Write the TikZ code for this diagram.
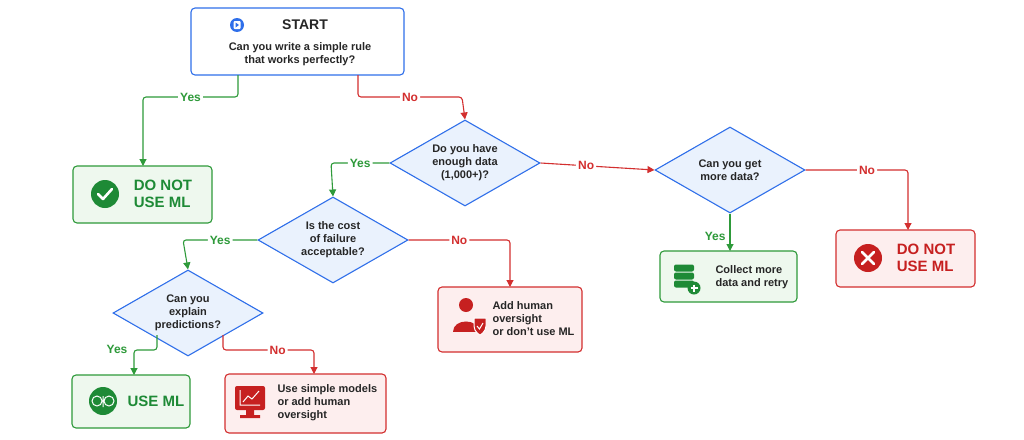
\documentclass[tikz,border=0pt]{standalone}
\usepackage{fontspec}
\setmainfont{Liberation Sans}
\usetikzlibrary{shapes.geometric,arrows.meta}
\definecolor{gB}{HTML}{2E9A3A}
\definecolor{gF}{HTML}{EEF8EE}
\definecolor{rB}{HTML}{D32F2F}
\definecolor{rF}{HTML}{FDEEEE}
\definecolor{bB}{HTML}{2F6FEA}
\definecolor{bF}{HTML}{EAF2FD}
\definecolor{gI}{HTML}{1E8A36}
\definecolor{rI}{HTML}{C62020}
\begin{document}
\begin{tikzpicture}[x=1pt,y=-1pt,
 txt/.style={font=\fontsize{11}{13}\selectfont\bfseries,text=black!85,align=center},
 box/.style={draw,rounded corners=4pt,line width=1.1pt},
 gbox/.style={box,draw=gB,fill=gF},
 rbox/.style={box,draw=rB,fill=rF},
 dia/.style={diamond,draw=bB,fill=bF,line width=1.1pt,inner sep=0pt,minimum width=150pt,minimum height=86pt,aspect=1.75,txt},
 ga/.style={draw=gB,line width=1.1pt,-{Triangle[length=7pt,width=7pt]},rounded corners=3pt},
 ra/.style={draw=rB,line width=1.1pt,-{Triangle[length=7pt,width=7pt]},rounded corners=3pt},
 gl/.style={fill=white,text=gB,font=\fontsize{12}{14}\selectfont\bfseries,inner sep=2pt},
 rl/.style={fill=white,text=rB,font=\fontsize{12}{14}\selectfont\bfseries,inner sep=2pt},
 big/.style={font=\fontsize{15}{17}\selectfont\bfseries,align=left}]
\useasboundingbox[fill=white] (0,0) rectangle (1024,439);
% nodes
\draw[box,draw=bB,fill=white] (191,8) rectangle (404,75);
\node[txt,font=\fontsize{14}{16}\selectfont\bfseries] (st) at (305,25) {START};
\node[txt] (q0) at (300,54) {Can you write a simple rule\\that works perfectly?};
\coordinate (s) at (191,8);
\fill[bB] (237,25) circle (7);
\fill[white,rounded corners=1pt] (233.5,21) rectangle (240.5,29);
\fill[bB] (235.5,22.5) -- (235.5,27.5) -- (239,25) -- cycle;

\node[dia] (d1) at (465,163) {Do you have\\enough data\\(1,000+)?};
\node[dia] (d2) at (730,170) {Can you get\\more data?};
\node[dia] (d3) at (333,240) {Is the cost\\of failure\\acceptable?};
\node[dia] (d4) at (188,313) {Can you\\explain\\predictions?};

\draw[gbox] (73,166) rectangle (212,223); \coordinate (b1) at (143,166);
\fill[gI] (105,194) circle (14);
\draw[white,line width=2.6pt,line cap=round,line join=round] (98,194)--(103,199)--(112,189);
\node[big,text=gI] (t1) at (163,194) {DO NOT\\USE ML};

\draw[rbox] (836,230) rectangle (975,287); \coordinate (b2) at (908,230);
\fill[rI] (868,258) circle (14);
\draw[white,line width=2.6pt,line cap=round] (862,252)--(874,264) (874,252)--(862,264);
\node[big,text=rI] (t2) at (926,258) {DO NOT\\USE ML};

\draw[gbox] (660,251) rectangle (797,302); \coordinate (b3) at (730,251);
\foreach \yy in {268,276,284}{\fill[gI,rounded corners=2pt] (674,\yy-3.5) rectangle (694,\yy+3.5);}
\fill[gI] (694,288) circle (6.5);
\draw[white,line width=1.4pt] (690.5,288)--(697.5,288) (694,284.5)--(694,291.5);
\node[txt,align=left,anchor=west] (t3) at (712,277) {Collect more\\data and retry};

\draw[rbox] (438,287) rectangle (582,352); \coordinate (b4) at (510,287);
\fill[rI] (466,305) circle (7);
\fill[rI] (453,332) .. controls (453,318) and (479,318) .. (479,332) -- cycle;
\fill[rI,draw=white,line width=1pt] (474,318) -- (486,318) -- (486,326) .. controls (486,332) and (480,335) .. (480,335) .. controls (480,335) and (474,332) .. (474,326) -- cycle;
\draw[white,line width=1pt] (477,326)--(479.5,329)--(483,323);
\node[txt,align=left,anchor=west] (t4) at (489,319) {Add human\\oversight\\or don't use ML};

\draw[gbox] (72,375) rectangle (190,428); \coordinate (b5) at (134,375);
\fill[gI] (103,401) circle (14);
\draw[white,line width=1pt] (97,401) circle (5) (109,401) circle (5) (103,396)--(103,407);
\node[big,text=gI,anchor=west] (t5) at (124,401) {USE ML};

\draw[rbox] (225,374) rectangle (386,433); \coordinate (b6) at (314,374);
\fill[rI,rounded corners=2pt] (235,386) rectangle (265,410);
\fill[rI] (246,410) rectangle (254,415) (240,415) rectangle (260,418);
\draw[white,line width=1pt] (240,390)--(240,405)--(260,405) (243,402)--(248,396)--(252,399)--(259,391);
\node[txt,align=left,anchor=west] (t6) at (274,403) {Use simple models\\or add human\\oversight};

% connectors
\draw[ga] (238,75) -- (238,97) -- node[gl,pos=0.5]{Yes} (143,97) -- (b1);
\draw[ra] (358,75) -- (358,97) -- node[rl,pos=0.5]{No} (462,97) -- (d1.north);
\draw[ga] (d1.west) -- node[gl,pos=0.5]{Yes} (331,163) -- (d3.north);
\draw[ra] (d1.east) -- node[rl,pos=0.4]{No} (d2.west);
\draw[ra] (d2.east) -- node[rl,pos=0.6]{No} (908,170) -- (b2);
\draw[ga] (d2.south) -- node[gl,pos=0.6,left=2pt,fill=none]{Yes} (b3);
\draw[ga] (d3.west) -- node[gl,pos=0.5]{Yes} (183,240) -- (d4.north);
\draw[ra] (d3.east) -- node[rl,pos=0.5]{No} (510,240) -- (b4);
\draw[ga] (157,335) -- (157,350) -- (134,350) -- (b5);
\node[gl,fill=none] (yl) at (117,349) {Yes};
\draw[ra] (223,335) -- (223,350) -- node[rl,pos=0.6]{No} (314,350) -- (b6);
\end{tikzpicture}
\end{document}
